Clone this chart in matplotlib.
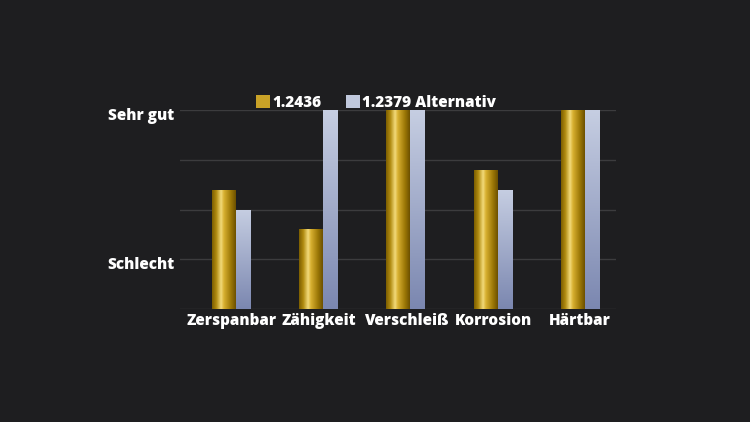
import matplotlib
matplotlib.use("Agg")
import matplotlib.pyplot as plt
import matplotlib.transforms as mtransforms
import numpy as np
from matplotlib.colors import LinearSegmentedColormap
from matplotlib.patches import Patch

# data
categories = ["Zerspanbar", "Zähigkeit", "Verschleiß", "Korrosion", "Härtbar"]
steel_a = [2.4, 1.6, 4.0, 2.8, 4.0]   # 1.2436
steel_b = [2.0, 4.0, 4.0, 2.4, 4.0]   # 1.2379 Alternativ
series_names = ["1.2436", "1.2379 Alternativ"]
ytick_vals = [0, 1, 2, 3, 4]
ytick_text = ["", "Schlecht", "", "", "Sehr gut"]

bg = "#1e1e20"
plt.rcParams["font.family"] = ["Open Sans", "DejaVu Sans"]
plt.rcParams["font.weight"] = "heavy"
weight = "heavy"

gold_cmap = LinearSegmentedColormap.from_list(
    "gold", [(0.0, "#7c5d00"), (0.18, "#b08a10"), (0.38, "#f2da7a"),
             (0.5, "#d8b030"), (0.8, "#9a7606"), (1.0, "#6c5000")])
blue_cmap = LinearSegmentedColormap.from_list(
    "blue", [(0.0, "#7b87b0"), (1.0, "#c6cee2")])

fig = plt.figure(figsize=(7.5, 4.22), dpi=100, facecolor=bg)
ax = fig.add_axes([0.24, 0.2678, 0.5813, 0.4715])
ax.set_facecolor(bg)

x = np.arange(len(categories))
w_a, w_b = 0.275, 0.172
bars_a = ax.bar(x + 0.367, steel_a, w_a, align="edge", color="#c9a227", zorder=2)
bars_b = ax.bar(x + 0.642, steel_b, w_b, align="edge", color="#aab3cc", zorder=2)

# gradient fill on each bar
hgrad = np.linspace(0, 1, 256).reshape(1, -1)
vgrad = np.linspace(0, 1, 256).reshape(-1, 1)
for b in bars_a:
    x0, y0, bw, bh = b.get_x(), b.get_y(), b.get_width(), b.get_height()
    im = ax.imshow(hgrad, cmap=gold_cmap, extent=[x0, x0 + bw, y0, y0 + bh],
                   aspect="auto", origin="lower", zorder=3)
    im.set_clip_path(b)
for b in bars_b:
    x0, y0, bw, bh = b.get_x(), b.get_y(), b.get_width(), b.get_height()
    im = ax.imshow(vgrad, cmap=blue_cmap, extent=[x0, x0 + bw, y0, y0 + bh],
                   aspect="auto", origin="lower", zorder=3)
    im.set_clip_path(b)

ax.set_xlim(0, len(categories))
ax.set_ylim(0, 4)

ax.set_yticks(ytick_vals)
ax.set_yticklabels(ytick_text)
ax.set_xticks(x + 0.59)
ax.set_xticklabels(categories)
ax.tick_params(axis="both", length=0, colors="white", labelsize=11)
ax.tick_params(axis="y", pad=4)
ax.tick_params(axis="x", pad=3)
shift = mtransforms.ScaledTranslation(0, -4 / 100, fig.dpi_scale_trans)
for lbl in ax.get_yticklabels():
    lbl.set_transform(lbl.get_transform() + shift)
for lbl in ax.get_xticklabels() + ax.get_yticklabels():
    lbl.set_fontweight(weight)

ax.grid(axis="y", color="#3c3c3e", linewidth=1, zorder=0)
for s in ax.spines.values():
    s.set_visible(False)

handles = [Patch(facecolor="#c9a227", edgecolor="none"),
           Patch(facecolor="#c0c8dc", edgecolor="none")]
leg = ax.legend(handles, series_names, loc="center", bbox_to_anchor=(0.45, 1.035),
                ncol=2, frameon=False, fontsize=11, handlelength=0.9,
                handleheight=0.9, handletextpad=0.15, columnspacing=1.6,
                borderaxespad=0)
for t in leg.get_texts():
    t.set_color("white")
    t.set_fontweight(weight)

fig.savefig("out.png", dpi=100, facecolor=bg)
